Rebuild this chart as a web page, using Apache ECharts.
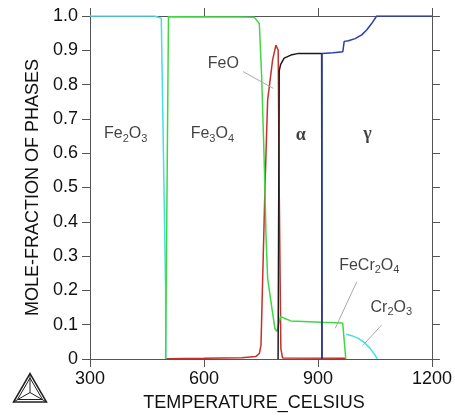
<!DOCTYPE html>
<html>
<head>
<meta charset="utf-8">
<script src="https://cdn.jsdelivr.net/npm/echarts@6/dist/echarts.min.js"></script>
<style>
  html, body { margin: 0; padding: 0; background: #fff; }
  #chart { width: 455px; height: 418px; }
</style>
</head>
<body>
<div id="chart"></div>
<script>
// [temperature °C, mole fraction]
const fe2o3 = [[300, 1], [470, 1], [487.6, 0.993], [498.9, 0.21], [499.5, 0]]
const spinel = [[499, 0], [506.5, 0.998], [700, 0.997], [732.5, 0.996], [745.6, 0.978], [751.8, 0.823],
  [757.1, 0.629], [760.5, 0.493], [763.1, 0.362], [767.5, 0.235], [776.2, 0.167], [786.6, 0.089],
  [791.9, 0.08], [801.5, 0.124], [811, 0.119], [828.5, 0.111], [909.6, 0.107], [965, 0.105],
  [967.2, 0.103], [973.2, 0]]
const feo = [[500.5, 0.001], [600, 0.002], [700, 0.004], [736, 0.007], [745.7, 0.016], [750, 0.04],
  [760.5, 0.5], [767.5, 0.755], [780.6, 0.872], [789.2, 0.915], [791.9, 0.918], [795.3, 0.9],
  [797.9, 0.5], [802.3, 0.03], [806.7, 0.003], [972, 0.002]]
const alpha = [[795, 0], [798, 0.84], [801.5, 0.858], [811, 0.877], [828.5, 0.886], [849, 0.891],
  [909.6, 0.891], [910.4, 0]]
const gamma = [[910.4, 0], [910.5, 0.891], [940, 0.893], [965.4, 0.896], [969, 0.926], [980.2, 0.928],
  [997.8, 0.934], [1015, 0.945], [1028.1, 0.959], [1041.2, 0.978], [1054.3, 1], [1200, 1]]
const cr2o3 = [[974.2, 0.072], [988.9, 0.068], [1006.4, 0.06], [1024, 0.046], [1037, 0.031],
  [1050, 0.012], [1056, 0]]

const xTicks = [300, 600, 900, 1200]

const labelNames = ['Fe2O3', 'Fe3O4', 'FeO', 'α', 'γ', 'FeCr2O4', 'Cr2O3']
const labelAt = [[394, 0.656], [622, 0.656], [651, 0.861], [855, 0.653], [1030, 0.656], [1035, 0.272], [1093, 0.151]]
const leaders = [
  [[702.9, 0.838], [782.2, 0.789]],
  [[1002, 0.225], [945.4, 0.0895]],
  [[1067.4, 0.099], [1017.7, 0.039]]
]

const font = 'Liberation Sans'
const axisColor = '#555'

const richName = (n) => {
  if (/^[αγ]$/.test(n)) return '{g|' + n + '}'
  return n.replace(/(\D+)|(\d+)/g, (m, a, d) => (a ? '{m|' + a + '}' : '{s|' + d + '}'))
}

const curve = (data, color, width) => ({
  type: 'line',
  data: data,
  showSymbol: false,
  symbol: 'none',
  silent: true,
  lineStyle: { color: color, width: width || 1.5 },
  z: 3
})

const sideAxis = {
  axisLine: { show: true, onZero: false, lineStyle: { color: axisColor, width: 1 } },
  axisTick: { show: true, inside: false, length: 8, lineStyle: { color: axisColor } },
  splitLine: { show: false }
}

const chart = echarts.init(document.getElementById('chart'), null, { renderer: 'canvas' })
chart.setOption({
  animation: false,
  backgroundColor: '#fff',
  grid: { left: 90, right: 21, top: 16, bottom: 59 },
  xAxis: [
    Object.assign({}, sideAxis, {
      type: 'value', min: xTicks[0], max: xTicks[xTicks.length - 1], interval: 300,
      name: 'TEMPERATURE_CELSIUS', nameLocation: 'middle', nameGap: 35,
      nameTextStyle: { fontFamily: font, fontSize: 18, color: '#111', padding: [0, 14, 0, 0] },
      axisLabel: { margin: 11, fontFamily: font, fontSize: 18, color: '#111', formatter: (v) => String(v) }
    }),
    Object.assign({}, sideAxis, {
      type: 'value', position: 'top', min: xTicks[0], max: xTicks[xTicks.length - 1], interval: 300,
      axisLabel: { show: false }
    })
  ],
  yAxis: [
    Object.assign({}, sideAxis, {
      type: 'value', min: 0, max: 1, interval: 0.1,
      name: 'MOLE-FRACTION OF PHASES', nameLocation: 'middle', nameGap: 37,
      nameTextStyle: { fontFamily: font, fontSize: 18, color: '#111' },
      axisLabel: {
        margin: 12, fontFamily: font, fontSize: 18, color: '#111',
        formatter: (v) => (v === 0 ? '0' : v.toFixed(1))
      }
    }),
    Object.assign({}, sideAxis, {
      type: 'value', position: 'right', min: 0, max: 1, interval: 0.1,
      axisLabel: { show: false }
    })
  ],
  series: [
    curve(feo, '#c4302b'),
    curve(fe2o3, '#45dde8'),
    curve(spinel, '#40d840'),
    curve(alpha, '#1a1a1a'),
    curve(gamma, '#2b3db0'),
    curve(cr2o3, '#45dde8'),
    ...leaders.map((l) => curve(l, '#aaaaaa', 1)),
    {
      type: 'scatter',
      data: labelAt.map((p, i) => [p[0], p[1], labelNames[i]]),
      symbolSize: 0,
      silent: true,
      z: 5,
      label: {
        show: true,
        position: [0, 0],
        align: 'center',
        verticalAlign: 'middle',
        formatter: (p) => richName(p.data[2]),
        rich: {
          m: { fontFamily: font, fontSize: 16, color: '#111', lineHeight: 20, verticalAlign: 'middle' },
          s: { fontFamily: font, fontSize: 11, color: '#111', lineHeight: 12, verticalAlign: 'bottom' },
          g: { fontFamily: 'Liberation Serif', fontWeight: 'bold', fontSize: 18, color: '#111', lineHeight: 20 }
        }
      }
    }
  ],
  graphic: [
    {
      type: 'group',
      left: 11,
      top: 371,
      children: [
        { type: 'polygon', shape: { points: [[0.5, 29], [33.5, 29], [17, 0.5]] }, style: { fill: 'none', stroke: '#222', lineWidth: 1.5 } },
        { type: 'polygon', shape: { points: [[4.5, 26.5], [29.5, 26.5], [17, 5]] }, style: { fill: 'none', stroke: '#222', lineWidth: 1 } },
        { type: 'polyline', shape: { points: [[0.5, 29], [17, 19.5], [33.5, 29]] }, style: { fill: 'none', stroke: '#222', lineWidth: 1 } },
        { type: 'line', shape: { x1: 17, y1: 0.5, x2: 17, y2: 19.5 }, style: { stroke: '#222', lineWidth: 1 } }
      ]
    }
  ]
})
</script>
</body>
</html>
